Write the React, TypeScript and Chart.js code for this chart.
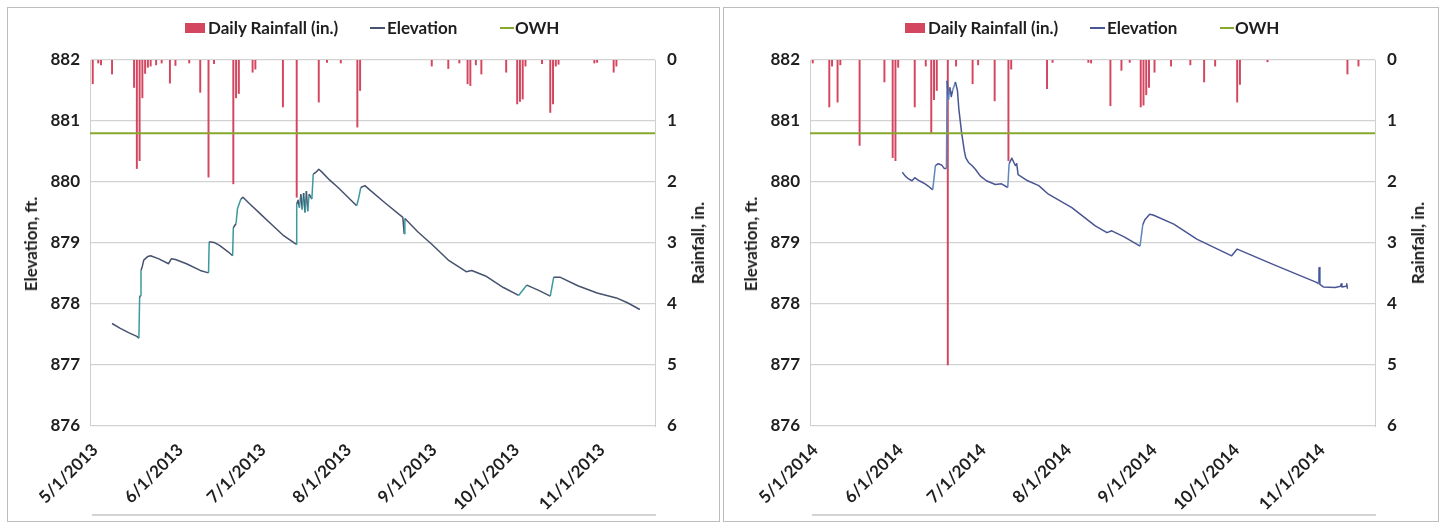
import { useEffect, useRef } from 'react';
import { Chart, registerables } from 'chart.js';

Chart.register(...registerables);

// ---------- styling ----------
const FONT_FAMILY = 'Lato, "Open Sans", "DejaVu Sans", sans-serif';
const TEXT_COLOR = '#1e1e1e';
const GRID_COLOR = '#d2d2d2';
const AXIS_LINE_COLOR = '#cfcfcf';
const RAIN_COLOR = '#d4465f';
const OWH_COLOR = '#86a82c';

// ---------- shared scale settings ----------
const OWH_ELEVATION = 880.8;
const ELEVATION_RANGE = [876, 882];
const RAIN_RANGE = [0, 6];
const AXIS_SPAN_DAYS = 205;

// ---------- 2013 season ----------
const MONTH_TICKS_2013 = ['2013-05-01', '2013-06-01', '2013-07-01', '2013-08-01', '2013-09-01', '2013-10-01', '2013-11-01'];
const MONTH_LABELS_2013 = ['5/1/2013', '6/1/2013', '7/1/2013', '8/1/2013', '9/1/2013', '10/1/2013', '11/1/2013'];

const RAIN_2013_DATES = [
  '2013-05-02', '2013-05-04', '2013-05-05', '2013-05-09', '2013-05-17', '2013-05-18', '2013-05-19', '2013-05-20',
  '2013-05-21', '2013-05-22', '2013-05-23', '2013-05-25', '2013-05-27', '2013-05-30', '2013-06-01', '2013-06-06',
  '2013-06-10', '2013-06-13', '2013-06-15', '2013-06-22', '2013-06-23', '2013-06-24', '2013-06-29', '2013-06-30',
  '2013-07-10', '2013-07-15', '2013-07-23', '2013-07-26', '2013-07-31', '2013-08-06', '2013-08-07', '2013-09-02',
  '2013-09-08', '2013-09-12', '2013-09-15', '2013-09-16', '2013-09-18', '2013-09-20', '2013-09-29', '2013-10-03',
  '2013-10-04', '2013-10-05', '2013-10-06', '2013-10-12', '2013-10-15', '2013-10-16', '2013-10-17', '2013-10-18',
  '2013-10-31', '2013-11-01', '2013-11-07', '2013-11-08',
];
const RAIN_2013_INCHES = [
  0.39, 0.05, 0.08, 0.23, 0.45, 1.78, 1.65, 0.62,
  0.22, 0.12, 0.1, 0.08, 0.05, 0.38, 0.09, 0.05,
  0.53, 1.92, 0.06, 2.03, 0.62, 0.55, 0.2, 0.15,
  0.77, 2.25, 0.69, 0.04, 0.05, 1.1, 0.5, 0.1,
  0.14, 0.05, 0.39, 0.42, 0.08, 0.23, 0.2, 0.72,
  0.68, 0.64, 0.1, 0.06, 0.86, 0.72, 0.1, 0.07,
  0.05, 0.04, 0.2, 0.1,
];

const ELEVATION_2013_TIMES = [
  '2013-05-09', '2013-05-12', '2013-05-15', '2013-05-18', '2013-05-18T18:00', '2013-05-19', '2013-05-19T06:00',
  '2013-05-19T12:00', '2013-05-20', '2013-05-20T12:00', '2013-05-22', '2013-05-23', '2013-05-26', '2013-05-29T12:00',
  '2013-05-30T12:00', '2013-06-01', '2013-06-05', '2013-06-10', '2013-06-13', '2013-06-13T06:00', '2013-06-15',
  '2013-06-17', '2013-06-20', '2013-06-21T18:00', '2013-06-22', '2013-06-23', '2013-06-23T12:00', '2013-06-24T18:00',
  '2013-06-25T12:00', '2013-06-28', '2013-07-02', '2013-07-06', '2013-07-10', '2013-07-14T18:00', '2013-07-15',
  '2013-07-15T12:00', '2013-07-16', '2013-07-16T12:00', '2013-07-17', '2013-07-17T12:00', '2013-07-18', '2013-07-18T12:00',
  '2013-07-19', '2013-07-19T12:00', '2013-07-20T12:00', '2013-07-21', '2013-07-22', '2013-07-23', '2013-07-24',
  '2013-07-27', '2013-07-30', '2013-08-01T12:00', '2013-08-05T18:00', '2013-08-06T12:00', '2013-08-07T06:00', '2013-08-08T18:00',
  '2013-08-10T12:00', '2013-08-16', '2013-08-22T12:00', '2013-08-23', '2013-08-23T06:00', '2013-08-28', '2013-09-02',
  '2013-09-08', '2013-09-14T12:00', '2013-09-16T12:00', '2013-09-21T12:00', '2013-09-28', '2013-10-03T12:00', '2013-10-06T12:00',
  '2013-10-11', '2013-10-15', '2013-10-16T06:00', '2013-10-18T12:00', '2013-10-25', '2013-11-01', '2013-11-08',
  '2013-11-12', '2013-11-16T12:00',
];
const ELEVATION_2013_FT = [
  877.68, 877.6, 877.53, 877.47, 877.44, 878.1, 878.14,
  878.55, 878.62, 878.72, 878.78, 878.79, 878.74, 878.66,
  878.74, 878.73, 878.66, 878.55, 878.51, 879.02, 879.01,
  878.96, 878.86, 878.79, 879.25, 879.32, 879.56, 879.72,
  879.75, 879.64, 879.47, 879.3, 879.13, 878.98, 879.64,
  879.7, 879.58, 879.8, 879.55, 879.82, 879.5, 879.85,
  879.52, 879.8, 879.72, 880.13, 880.16, 880.21, 880.17,
  880.03, 879.91, 879.8, 879.61, 879.74, 879.91, 879.94,
  879.87, 879.66, 879.42, 879.15, 879.4, 879.18, 878.98,
  878.72, 878.53, 878.55, 878.46, 878.27, 878.14, 878.31,
  878.22, 878.13, 878.44, 878.44, 878.3, 878.18, 878.1,
  878.02, 877.91,
];

// ---------- 2014 season ----------
const MONTH_TICKS_2014 = ['2014-05-01', '2014-06-01', '2014-07-01', '2014-08-01', '2014-09-01', '2014-10-01', '2014-11-01'];
const MONTH_LABELS_2014 = ['5/1/2014', '6/1/2014', '7/1/2014', '8/1/2014', '9/1/2014', '10/1/2014', '11/1/2014'];

const RAIN_2014_DATES = [
  '2014-05-02', '2014-05-08', '2014-05-09', '2014-05-11', '2014-05-12', '2014-05-19', '2014-05-28', '2014-05-31',
  '2014-06-01', '2014-06-02', '2014-06-08', '2014-06-12', '2014-06-14', '2014-06-15', '2014-06-16', '2014-06-20',
  '2014-06-23', '2014-06-29', '2014-07-01', '2014-07-07', '2014-07-12', '2014-07-13', '2014-07-26', '2014-07-28',
  '2014-08-10', '2014-08-11', '2014-08-18', '2014-08-22', '2014-08-25', '2014-08-29', '2014-08-30', '2014-08-31',
  '2014-09-01', '2014-09-03', '2014-09-09', '2014-09-16', '2014-09-21', '2014-09-25', '2014-10-03', '2014-10-04',
  '2014-10-14', '2014-11-12', '2014-11-16',
];
const RAIN_2014_INCHES = [
  0.05, 0.77, 0.1, 0.69, 0.08, 1.4, 0.36, 1.6,
  1.65, 0.12, 0.77, 0.1, 1.19, 0.65, 0.5, 5.0,
  0.1, 0.39, 0.08, 0.67, 1.65, 0.15, 0.47, 0.04,
  0.04, 0.05, 0.75, 0.17, 0.04, 0.77, 0.74, 0.57,
  0.45, 0.2, 0.1, 0.08, 0.36, 0.1, 0.69, 0.4,
  0.03, 0.23, 0.1,
];

const ELEVATION_2014_TIMES = [
  '2014-06-03T12:00', '2014-06-04T12:00', '2014-06-05T18:00', '2014-06-07', '2014-06-08', '2014-06-09T06:00', '2014-06-10T12:00',
  '2014-06-11T18:00', '2014-06-13', '2014-06-14T12:00', '2014-06-15', '2014-06-15T12:00', '2014-06-16T12:00', '2014-06-17T18:00',
  '2014-06-18T18:00', '2014-06-19T12:00', '2014-06-19T18:00', '2014-06-20T06:00', '2014-06-20T18:00', '2014-06-21T06:00', '2014-06-21T18:00',
  '2014-06-22T18:00', '2014-06-23T12:00', '2014-06-24', '2014-06-25', '2014-06-26', '2014-06-26T12:00', '2014-06-27T12:00',
  '2014-06-28T18:00', '2014-06-30', '2014-07-01T18:00', '2014-07-04', '2014-07-07T06:00', '2014-07-09T12:00', '2014-07-11T18:00',
  '2014-07-12T06:00', '2014-07-13T06:00', '2014-07-14T12:00', '2014-07-15', '2014-07-15T12:00', '2014-07-19', '2014-07-23',
  '2014-07-26T12:00', '2014-08-04', '2014-08-12T12:00', '2014-08-16T18:00', '2014-08-18T12:00', '2014-08-23', '2014-08-28T18:00',
  '2014-08-29T18:00', '2014-08-30T12:00', '2014-09-01T06:00', '2014-09-02T12:00', '2014-09-10', '2014-09-18T12:00', '2014-10-01',
  '2014-10-03', '2014-10-16', '2014-11-01', '2014-11-01T12:00', '2014-11-01T18:00', '2014-11-02', '2014-11-03T06:00',
  '2014-11-07T12:00', '2014-11-09T12:00', '2014-11-09T18:00', '2014-11-10', '2014-11-11T12:00', '2014-11-11T18:00', '2014-11-12',
];
const ELEVATION_2014_FT = [
  880.16, 880.1, 880.05, 880.02, 880.07, 880.03, 880.0,
  879.97, 879.93, 879.87, 880.06, 880.27, 880.3, 880.28,
  880.22, 880.22, 881.66, 881.35, 881.55, 881.4, 881.5,
  881.64, 881.5, 881.2, 880.81, 880.51, 880.4, 880.32,
  880.27, 880.21, 880.1, 880.02, 879.96, 879.97, 879.91,
  880.3, 880.39, 880.27, 880.3, 880.12, 880.02, 879.94,
  879.8, 879.58, 879.28, 879.17, 879.2, 879.1, 878.95,
  879.3, 879.38, 879.47, 879.46, 879.31, 879.06, 878.79,
  878.9, 878.65, 878.35, 878.33, 878.6, 878.32, 878.28,
  878.27, 878.29, 878.33, 878.28, 878.29, 878.33, 878.25,
];

type Season = {
  monthTicks: string[];
  monthLabels: string[];
  rainDates: string[];
  rainInches: number[];
  elevationTimes: string[];
  elevationFt: number[];
  lineColor: string;
  riseColor: string;
};

const SEASON_2013: Season = {
  monthTicks: MONTH_TICKS_2013,
  monthLabels: MONTH_LABELS_2013,
  rainDates: RAIN_2013_DATES,
  rainInches: RAIN_2013_INCHES,
  elevationTimes: ELEVATION_2013_TIMES,
  elevationFt: ELEVATION_2013_FT,
  lineColor: '#46526e',
  riseColor: '#3c9a9e',
};

const SEASON_2014: Season = {
  monthTicks: MONTH_TICKS_2014,
  monthLabels: MONTH_LABELS_2014,
  rainDates: RAIN_2014_DATES,
  rainInches: RAIN_2014_INCHES,
  elevationTimes: ELEVATION_2014_TIMES,
  elevationFt: ELEVATION_2014_FT,
  lineColor: '#4a5593',
  riseColor: '#5f86bd',
};

// days elapsed from the season start (UTC) to a date or date-time stamp
function daysSince(start: string, stamp: string): number {
  const iso = stamp.length === 10 ? `${stamp}T00:00` : stamp;
  return (Date.parse(`${iso}Z`) - Date.parse(`${start}T00:00Z`)) / 86400000;
}

const CANVAS_W = 725;
const CANVAS_H = 525;
const LEFT_AXIS_W = 90;
const RIGHT_AXIS_W = 70;
const PLOT_TOP = 60;
const PLOT_BOTTOM = 426;

const boldFont = (size: number) => ({ family: FONT_FAMILY, size, weight: 'bold' as const });

// keep rotated labels from pushing the plot area inwards
const clearScalePadding = (scale: any) => {
  scale.paddingLeft = 0;
  scale.paddingRight = 0;
  scale.paddingTop = 0;
  scale.paddingBottom = 0;
};

function SeasonChart({ season }: { season: Season }) {
  const canvasRef = useRef<HTMLCanvasElement | null>(null);

  useEffect(() => {
    const canvas = canvasRef.current;
    if (!canvas) return;
    const start = season.monthTicks[0];
    const tickDays = season.monthTicks.map((d) => daysSince(start, d));

    const rainPoints = season.rainDates.map((d, i) => ({ x: daysSince(start, d), y: season.rainInches[i] }));
    const elevationPoints = season.elevationTimes.map((t, i) => ({ x: daysSince(start, t), y: season.elevationFt[i] }));
    const owhPoints = [
      { x: 0, y: OWH_ELEVATION },
      { x: AXIS_SPAN_DAYS, y: OWH_ELEVATION },
    ];

    const chart = new Chart(canvas, {
      type: 'bar',
      data: {
        datasets: [
          {
            type: 'bar',
            label: 'Daily Rainfall (in.)',
            data: rainPoints,
            yAxisID: 'yRain',
            backgroundColor: RAIN_COLOR,
            borderWidth: 0,
            barThickness: 1.3,
            order: 3,
          },
          {
            type: 'line',
            label: 'Elevation',
            data: elevationPoints,
            yAxisID: 'yElev',
            borderColor: season.lineColor,
            borderWidth: 1.5,
            pointRadius: 0,
            tension: 0,
            borderJoinStyle: 'round',
            segment: {
              borderColor: (ctx: any) => (ctx.p1.parsed.y - ctx.p0.parsed.y > 0.12 ? season.riseColor : undefined),
            },
            order: 2,
          },
          {
            type: 'line',
            label: 'OWH',
            data: owhPoints,
            yAxisID: 'yElev',
            borderColor: OWH_COLOR,
            borderWidth: 2,
            pointRadius: 0,
            order: 1,
          },
        ],
      } as any,
      options: {
        animation: false,
        responsive: false,
        maintainAspectRatio: false,
        layout: { padding: { top: PLOT_TOP, left: 0, right: 0, bottom: 0 } },
        plugins: { legend: { display: false }, tooltip: { enabled: false } },
        scales: {
          x: {
            type: 'linear',
            offset: false,
            min: 0,
            max: AXIS_SPAN_DAYS,
            afterBuildTicks: (scale: any) => {
              scale.ticks = tickDays.map((v) => ({ value: v }));
            },
            afterFit: (scale: any) => {
              scale.height = CANVAS_H - PLOT_BOTTOM;
              clearScalePadding(scale);
            },
            ticks: {
              autoSkip: false,
              minRotation: 45,
              maxRotation: 45,
              padding: 14,
              labelOffset: 5,
              color: TEXT_COLOR,
              font: boldFont(17),
              callback: (value: any) => {
                const idx = tickDays.indexOf(Number(value));
                return idx >= 0 ? season.monthLabels[idx] : '';
              },
            },
            grid: { display: false, drawTicks: false, offset: false },
            border: { display: false },
          },
          yElev: {
            position: 'left',
            min: ELEVATION_RANGE[0],
            max: ELEVATION_RANGE[1],
            afterFit: (scale: any) => {
              scale.width = LEFT_AXIS_W;
              clearScalePadding(scale);
            },
            ticks: {
              stepSize: 1,
              padding: 10,
              color: TEXT_COLOR,
              font: boldFont(17),
              callback: (value: any) => String(value),
            },
            grid: { color: GRID_COLOR, lineWidth: 1.2, drawTicks: false },
            border: { display: true, color: AXIS_LINE_COLOR, width: 1 },
          },
          yRain: {
            position: 'right',
            min: RAIN_RANGE[0],
            max: RAIN_RANGE[1],
            reverse: true,
            afterFit: (scale: any) => {
              scale.width = RIGHT_AXIS_W;
              clearScalePadding(scale);
            },
            ticks: {
              stepSize: 1,
              padding: 12,
              color: TEXT_COLOR,
              font: boldFont(17),
            },
            grid: { display: false, drawTicks: false },
            border: { display: true, color: AXIS_LINE_COLOR, width: 1 },
          },
        },
      } as any,
    });

    return () => chart.destroy();
  }, [season]);

  return (
    <canvas
      ref={canvasRef}
      width={CANVAS_W}
      height={CANVAS_H}
      style={{ position: 'absolute', left: 0, top: 0, width: CANVAS_W, height: CANVAS_H }}
    />
  );
}

const textStyle = {
  position: 'absolute' as const,
  fontFamily: FONT_FAMILY,
  fontWeight: 700,
  fontSize: 17,
  lineHeight: '20px',
  color: TEXT_COLOR,
  whiteSpace: 'nowrap' as const,
};

function Legend({ lineColor }: { lineColor: string }) {
  return (
    <>
      <div style={{ position: 'absolute', left: 185, top: 23, width: 20, height: 10, background: RAIN_COLOR }} />
      <div style={{ ...textStyle, left: 208, top: 18 }}>Daily Rainfall (in.)</div>
      <div style={{ position: 'absolute', left: 370, top: 27, width: 15, height: 2, background: lineColor }} />
      <div style={{ ...textStyle, left: 387, top: 18 }}>Elevation</div>
      <div style={{ position: 'absolute', left: 500, top: 27, width: 14, height: 2, background: OWH_COLOR }} />
      <div style={{ ...textStyle, left: 515, top: 18 }}>OWH</div>
    </>
  );
}

function AxisTitle({ text, cx, cy }: { text: string; cx: number; cy: number }) {
  return (
    <div
      style={{
        ...textStyle,
        left: cx,
        top: cy,
        transform: 'translate(-50%, -50%) rotate(-90deg)',
      }}
    >
      {text}
    </div>
  );
}

function Panel({ season, offsetX, frameLeft, frameWidth }: { season: Season; offsetX: number; frameLeft: number; frameWidth: number }) {
  return (
    <div style={{ position: 'absolute', left: offsetX, top: 0, width: CANVAS_W, height: CANVAS_H }}>
      <div
        style={{
          position: 'absolute',
          left: frameLeft,
          top: 7,
          width: frameWidth,
          height: 515,
          border: '1px solid #bdbdbd',
          boxSizing: 'border-box',
        }}
      />
      <SeasonChart season={season} />
      <Legend lineColor={season.lineColor} />
      <AxisTitle text="Elevation, ft." cx={31} cy={244} />
      <AxisTitle text="Rainfall, in." cx={698} cy={243} />
      <div style={{ position: 'absolute', left: 92, top: 514, width: 564, height: 2, background: '#d4d4d4' }} />
    </div>
  );
}

export default function App() {
  return (
    <div style={{ position: 'absolute', left: 0, top: 0, width: 1445, height: 525, background: '#ffffff', overflow: 'hidden' }}>
      <Panel season={SEASON_2013} offsetX={0} frameLeft={7} frameWidth={713} />
      <Panel season={SEASON_2014} offsetX={720} frameLeft={3} frameWidth={716} />
    </div>
  );
}
